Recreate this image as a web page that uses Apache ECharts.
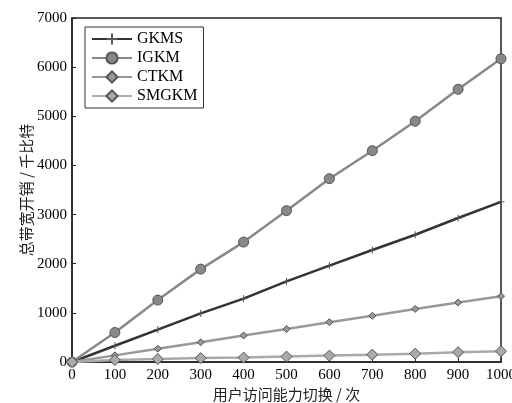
<!DOCTYPE html>
<html>
<head>
<meta charset="utf-8">
<script src="https://cdn.jsdelivr.net/npm/echarts@6/dist/echarts.min.js"></script>
<style>
html,body{margin:0;padding:0;background:#fff;}
#main{width:512px;height:403px;}
</style>
</head>
<body>
<div id="main"></div>
<script>
var xData = [0, 100, 200, 300, 400, 500, 600, 700, 800, 900, 1000];
var gkms = [0, 330, 660, 990, 1290, 1640, 1960, 2280, 2590, 2930, 3260];
var igkm = [0, 600, 1260, 1890, 2440, 3080, 3730, 4300, 4900, 5550, 6170];
var ctkm = [0, 135, 270, 400, 540, 670, 810, 940, 1080, 1210, 1340];
var smgkm = [0, 40, 60, 80, 90, 110, 130, 150, 170, 200, 220];

function makeSeries(name, data, color, symbol, size, width) {
	return {
		name: name,
		type: 'line',
		data: xData.map(function (x, i) { return [x, data[i]]; }),
		symbol: symbol,
		symbolSize: size,
		lineStyle: { color: color, width: width },
		itemStyle: { color: color, borderColor: '#555', borderWidth: 1 },
		z: 3
	};
}

var option = {
	animation: false,
	backgroundColor: '#fff',
	legend: {
		left: 85,
		top: 27,
		orient: 'vertical',
		itemGap: 3,
		itemWidth: 40,
		itemHeight: 14,
		padding: [4, 6, 4, 6],
		borderColor: '#333',
		borderWidth: 1,
		backgroundColor: '#fff',
		textStyle: { fontFamily: 'Liberation Serif', fontSize: 16, color: '#000' },
		data: ['GKMS', 'IGKM', 'CTKM', 'SMGKM']
	},
	grid: { left: 72, right: 11, top: 18, bottom: 41, outerBoundsMode: 'none', show: true, borderColor: '#222', borderWidth: 1.5 },
	xAxis: {
		type: 'value',
		min: 0, max: 1000, interval: 100,
		name: '用户访问能力切换 / 次',
		nameLocation: 'middle',
		nameGap: 25,
		nameMoveOverlap: false,
		nameTextStyle: { fontFamily: 'Noto Sans CJK SC', fontSize: 15, color: '#222' },
		axisLine: { lineStyle: { color: '#222', width: 1.5 } },
		axisTick: { inside: true, length: 4, lineStyle: { color: '#222' } },
		axisLabel: { fontFamily: 'Liberation Serif', fontSize: 15, color: '#000', margin: 6, formatter: function (v) { return String(v); } },
		splitLine: { show: false }
	},
	yAxis: {
		type: 'value',
		min: 0, max: 7000, interval: 1000,
		name: '总带宽开销 / 千比特',
		nameLocation: 'middle',
		nameGap: 46,
		nameMoveOverlap: false,
		nameTextStyle: { fontFamily: 'Noto Sans CJK SC', fontSize: 15, color: '#222', verticalAlign: 'middle' },
		axisLine: { lineStyle: { color: '#222', width: 1.5 } },
		axisTick: { inside: true, length: 4, lineStyle: { color: '#222' } },
		axisLabel: { fontFamily: 'Liberation Serif', fontSize: 15, color: '#000', margin: 5, formatter: function (v) { return String(v); } },
		splitLine: { show: false }
	},
	series: [
		makeSeries('GKMS', gkms, '#333', 'path://M0,5 L10,5 M5,0 L5,10', 7, 2.5),
		makeSeries('IGKM', igkm, '#888', 'circle', 10, 2.5),
		makeSeries('CTKM', ctkm, '#999', 'diamond', 7, 2.5),
		makeSeries('SMGKM', smgkm, '#aaa', 'diamond', 11, 2.5)
	]
};

var myChart = echarts.init(document.getElementById('main'));
myChart.setOption(option, true);
</script>
</body>
</html>
